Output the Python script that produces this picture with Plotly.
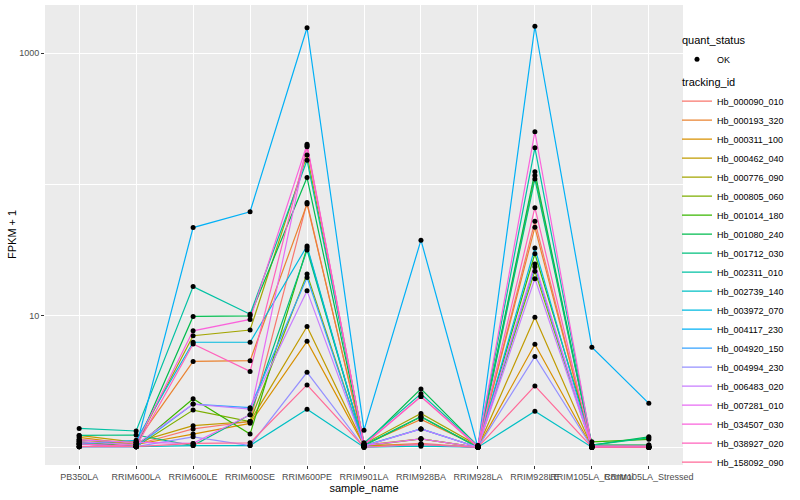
import math
import plotly.graph_objects as go

sample_names = ["PB350LA", "RRIM600LA", "RRIM600LE", "RRIM600SE", "RRIM600PE",
                "RRIM901LA", "RRIM928BA", "RRIM928LA", "RRIM928LE",
                "RRIM105LA_Control", "RRIM105LA_Stressed"]

tracking_ids = ["Hb_000090_010", "Hb_000193_320", "Hb_000311_100", "Hb_000462_040",
                "Hb_000776_090", "Hb_000805_060", "Hb_001014_180", "Hb_001080_240",
                "Hb_001712_030", "Hb_002311_010", "Hb_002739_140", "Hb_003972_070",
                "Hb_004117_230", "Hb_004920_150", "Hb_004994_230", "Hb_006483_020",
                "Hb_007281_010", "Hb_034507_030", "Hb_038927_020", "Hb_158092_090"]

# FPKM + 1 per sample, one list per tracking_id
v_000090_010 = [1.10, 1.05, 1.38, 1.57, 73, 1.02, 1.07, 1.00, 52.5, 1.00, 1.00]
v_000193_320 = [1.14, 1.09, 4.5, 4.56, 71, 1.05, 1.63, 1.02, 47.2, 1.02, 1.02]
v_000311_100 = [1.19, 1.05, 1.26, 1.52, 6.4, 1.03, 1.05, 1.00, 6.08, 1.00, 1.00]
v_000462_040 = [1.23, 1.09, 1.46, 1.57, 8.3, 1.04, 1.16, 1.00, 9.76, 1.00, 1.00]
v_000776_090 = [1.14, 1.05, 7.06, 7.8, 168, 1.06, 1.81, 1.03, 117, 1.04, 1.04]
v_000805_060 = [1.06, 1.01, 1.92, 1.57, 20.8, 1.02, 1.16, 1.00, 21.9, 1.00, 1.00]
v_001014_180 = [1.10, 1.01, 2.34, 1.26, 33, 1.03, 1.71, 1.00, 29.7, 1.10, 1.15]
v_001080_240 = [1.06, 1.01, 9.9, 10.0, 113, 1.05, 2.78, 1.02, 125, 1.04, 1.20]
v_001712_030 = [1.23, 1.24, 1.03, 1.77, 31.7, 1.04, 1.71, 1.00, 110, 1.04, 1.18]
v_002311_010 = [1.39, 1.33, 16.7, 10.3, 153, 1.08, 2.55, 1.03, 190, 1.04, 1.04]
v_002739_140 = [1.01, 1.01, 1.03, 1.03, 1.95, 1.00, 1.02, 1.00, 1.88, 1.00, 1.00]
v_003972_070 = [1.06, 1.13, 6.3, 6.3, 34, 1.03, 1.38, 1.00, 32.9, 1.00, 1.00]
v_004117_230 = [1.01, 1.01, 47, 62, 1560, 1.35, 37.7, 1.00, 1600, 5.77, 2.16]
v_004920_150 = [1.06, 1.01, 2.13, 2.0, 19.6, 1.02, 1.38, 1.00, 23.6, 1.00, 1.00]
v_004994_230 = [1.01, 1.01, 1.2, 1.03, 3.72, 1.00, 1.05, 1.00, 4.9, 1.00, 1.00]
v_006483_020 = [1.10, 1.05, 2.13, 1.95, 15.5, 1.02, 1.38, 1.00, 19.2, 1.00, 1.00]
v_007281_010 = [1.14, 1.09, 1.07, 1.77, 197, 1.03, 1.16, 1.00, 24.8, 1.00, 1.00]
v_034507_030 = [1.01, 1.05, 7.7, 9.4, 202, 1.04, 2.43, 1.02, 252, 1.02, 1.02]
v_038927_020 = [1.06, 1.01, 6.1, 3.78, 194, 1.05, 2.43, 1.00, 66.6, 1.00, 1.00]
v_158092_090 = [1.01, 1.01, 1.07, 1.08, 2.98, 1.00, 1.05, 1.00, 2.93, 1.00, 1.00]

series_values = [v_000090_010, v_000193_320, v_000311_100, v_000462_040, v_000776_090,
                 v_000805_060, v_001014_180, v_001080_240, v_001712_030, v_002311_010,
                 v_002739_140, v_003972_070, v_004117_230, v_004920_150, v_004994_230,
                 v_006483_020, v_007281_010, v_034507_030, v_038927_020, v_158092_090]

y_ticks = [10, 1000]
y_minor = [1, 100]


def hcl_hex(h, c=100.0, l=65.0):
    Xn, Yn, Zn = 95.047, 100.0, 108.883
    hr = math.radians(h)
    U, V = c * math.cos(hr), c * math.sin(hr)
    Y = Yn * ((l + 16) / 116) ** 3
    den = Xn + 15 * Yn + 3 * Zn
    un, vn = 4 * Xn / den, 9 * Yn / den
    u = U / (13 * l) + un
    v = V / (13 * l) + vn
    X = 9.0 * Y * u / (4 * v)
    Z = -X / 3 - 5 * Y + 3 * Y / v
    X, Y, Z = X / 100, Y / 100, Z / 100
    r = 3.240479 * X - 1.537150 * Y - 0.498535 * Z
    g = -0.969256 * X + 1.875992 * Y + 0.041556 * Z
    b = 0.055648 * X - 0.204043 * Y + 1.057311 * Z

    def gam(t):
        t = 12.92 * t if t <= 0.0031308 else 1.055 * t ** (1 / 2.4) - 0.055
        return int(round(min(max(t, 0), 1) * 255))
    return "#%02X%02X%02X" % (gam(r), gam(g), gam(b))


n = len(tracking_ids)
colors = [hcl_hex(15 + 360 / n * i) for i in range(n)]

fig = go.Figure()

# legend entry for quant_status
fig.add_trace(go.Scatter(x=[sample_names[0]], y=[None], mode="markers", name="OK",
                         marker=dict(color="black", size=5),
                         legendgroup="qs", legendgrouptitle_text="quant_status"))

for tid, vals, col in zip(tracking_ids, series_values, colors):
    fig.add_trace(go.Scatter(x=sample_names, y=vals, mode="lines", name=tid,
                             line=dict(color=col, width=1.2),
                             legendgroup="tid", legendgrouptitle_text="tracking_id"))

for tid, vals in zip(tracking_ids, series_values):
    fig.add_trace(go.Scatter(x=sample_names, y=vals, mode="markers", showlegend=False,
                             marker=dict(color="black", size=5), hoverinfo="skip"))

font = "Liberation Sans, Arial, sans-serif"
fig.update_layout(
    width=800, height=500,
    margin=dict(l=45, r=117, t=5, b=35, autoexpand=False),
    paper_bgcolor="white", plot_bgcolor="#EBEBEB",
    font=dict(family=font, size=9, color="black"),
    legend=dict(x=0.9906, y=0.955, xanchor="left", yanchor="top",
                traceorder="grouped", tracegroupgap=4, itemwidth=30,
                font=dict(size=9, color="black"),
                grouptitlefont=dict(size=11, color="black"),
                bgcolor="rgba(0,0,0,0)"),
    xaxis=dict(title=dict(text="sample_name", font=dict(size=11, color="black"), standoff=3),
               type="category", categoryorder="array", categoryarray=sample_names,
               range=[-0.6, len(sample_names) - 0.4], tickangle=0, automargin=False,
               showgrid=True, gridcolor="white", gridwidth=1.1,
               ticks="outside", ticklen=3, tickcolor="#333333",
               tickfont=dict(size=9, color="#4D4D4D"), zeroline=False, showline=False),
    yaxis=dict(type="log", range=[-0.135, 3.366], automargin=False,
               tickmode="array", tickvals=y_ticks, ticktext=[str(t) for t in y_ticks],
               showgrid=True, gridcolor="white", gridwidth=1.1,
               minor=dict(tickmode="array", tickvals=y_minor, showgrid=True,
                          gridcolor="white", gridwidth=0.5, ticks=""),
               ticks="outside", ticklen=3, tickcolor="#333333",
               tickfont=dict(size=9, color="#4D4D4D"), zeroline=False, showline=False),
    annotations=[dict(text="FPKM + 1", textangle=-90, showarrow=False,
                      xref="paper", yref="paper", x=-0.0517, y=0.5,
                      xanchor="center", yanchor="middle",
                      font=dict(size=11, color="black"))],
)

fig.write_html("out.html", config={"displayModeBar": False},
               post_script="document.body.style.margin='0';")
